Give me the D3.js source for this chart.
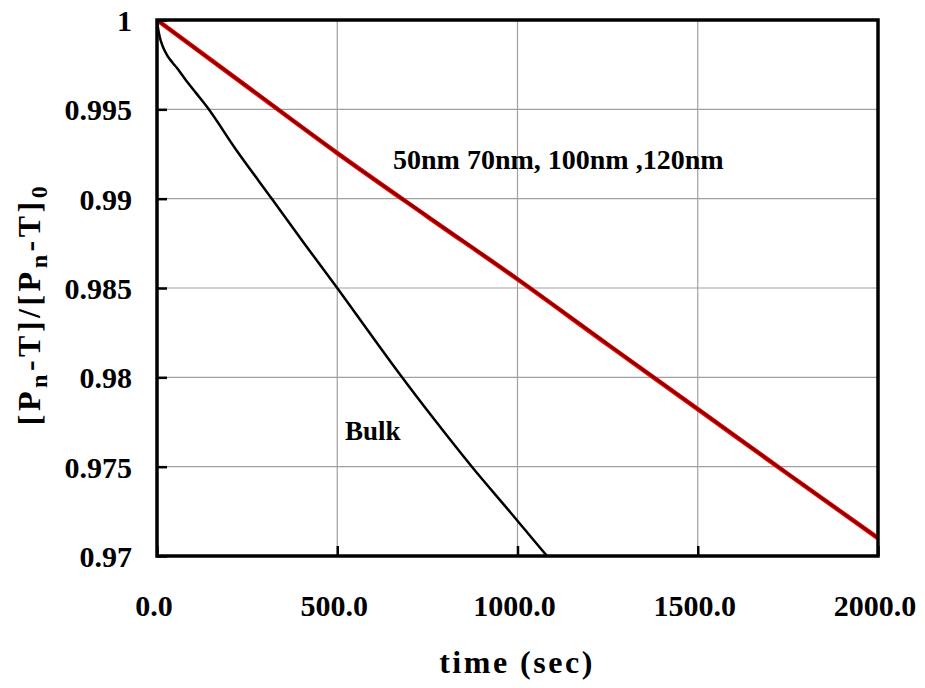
<!DOCTYPE html>
<html>
<head>
<meta charset="utf-8">
<script src="https://cdn.jsdelivr.net/npm/d3@7/dist/d3.min.js"></script>
<style>
  html, body { margin: 0; padding: 0; background: #fff; }
  svg { display: block; }
  text { font-family: "Liberation Serif", "Times New Roman", serif; font-weight: bold; fill: #000; }
</style>
</head>
<body>
<svg id="chart" width="925" height="688"></svg>
<script>
// Normalised concentration decay over time
const xTicks = [0, 500, 1000, 1500, 2000];
const xTickLabels = ["0.0", "500.0", "1000.0", "1500.0", "2000.0"];
const yTicks = [0.97, 0.975, 0.98, 0.985, 0.99, 0.995, 1];
const yTickLabels = ["0.97", "0.975", "0.98", "0.985", "0.99", "0.995", "1"];

// Bulk sample (time in s, normalised value)
const bulkTime  = [0, 2.8, 8.3, 16.6, 27.7, 41.6, 55.5, 77.7, 108, 139, 216, 319, 410, 502, 585, 671, 770, 874, 980, 1082, 1100];
const bulkValue = [1.0, 0.99955, 0.99899, 0.99849, 0.99804, 0.99765, 0.99731, 0.99670, 0.99592, 0.99513, 0.99284, 0.98998, 0.98745, 0.98494, 0.98262, 0.98024, 0.97762, 0.97498, 0.97245, 0.97000, 0.96958];

// Thin films: 50, 70, 100 and 120 nm overlap almost exactly
const filmTime = [0, 250, 500, 750, 1000, 1250, 1500, 1750, 2000];
const film50   = [1.0, 0.99630, 0.99258, 0.98903, 0.98552, 0.98187, 0.97825, 0.97462, 0.97103];
const film70   = [1.0, 0.99628, 0.99256, 0.98901, 0.98550, 0.98185, 0.97823, 0.97460, 0.97101];
const film100  = [1.0, 0.99627, 0.99255, 0.98900, 0.98549, 0.98184, 0.97822, 0.97459, 0.97100];
const film120  = [1.0, 0.99628, 0.99256, 0.98901, 0.98550, 0.98185, 0.97823, 0.97460, 0.97101];

const filmSeries = [
  { name: "50nm",  values: film50,  color: "#2030e0", width: 2.5 },
  { name: "70nm",  values: film70,  color: "#20a020", width: 2.5 },
  { name: "100nm", values: film100, color: "#ff0000", width: 4.5 },
  { name: "120nm", values: film120, color: "#800000", width: 2.5 }
];

const svg = d3.select("#chart");
const plot = { left: 157, top: 20, right: 878, bottom: 556 };

const x = d3.scaleLinear().domain([0, 2000]).range([plot.left, plot.right]);
const y = d3.scaleLinear().domain([0.97, 1]).range([plot.bottom, plot.top]);

svg.append("defs").append("clipPath").attr("id", "plotClip")
  .append("rect")
  .attr("x", plot.left).attr("y", plot.top)
  .attr("width", plot.right - plot.left).attr("height", plot.bottom - plot.top);

// Grid lines
const grid = svg.append("g");
grid.selectAll(".gx").data(xTicks.slice(1, -1)).join("line")
  .attr("x1", d => x(d)).attr("x2", d => x(d))
  .attr("y1", plot.top).attr("y2", plot.bottom)
  .attr("stroke", "#a0a0a0").attr("stroke-width", 1.2);
grid.selectAll(".gy").data(yTicks.slice(1, -1)).join("line")
  .attr("x1", plot.left).attr("x2", plot.right)
  .attr("y1", d => y(d)).attr("y2", d => y(d))
  .attr("stroke", "#a0a0a0").attr("stroke-width", 1.2);

// Data lines
const lines = svg.append("g").attr("clip-path", "url(#plotClip)");
const line = d3.line().x(d => x(d[0])).y(d => y(d[1])).curve(d3.curveMonotoneX);

filmSeries.forEach(s => {
  lines.append("path")
    .datum(filmTime.map((t, i) => [t, s.values[i]]))
    .attr("d", line)
    .attr("fill", "none")
    .attr("stroke", s.color)
    .attr("stroke-width", s.width)
    .attr("stroke-linejoin", "round");
});

lines.append("path")
  .datum(bulkTime.map((t, i) => [t, bulkValue[i]]))
  .attr("d", line)
  .attr("fill", "none")
  .attr("stroke", "#000")
  .attr("stroke-width", 2.5)
  .attr("stroke-linejoin", "round");

// Axes with inward ticks
const xAxis = d3.axisBottom(x).tickValues(xTicks).tickSize(-10).tickFormat("");
const yAxis = d3.axisLeft(y).tickValues(yTicks).tickSize(-10).tickFormat("");

const gx = svg.append("g").attr("transform", `translate(0,${plot.bottom})`).call(xAxis);
const gy = svg.append("g").attr("transform", `translate(${plot.left},0)`).call(yAxis);
[gx, gy].forEach(g => {
  g.select(".domain").remove();
  g.selectAll(".tick line").attr("stroke", "#000").attr("stroke-width", 2.5);
});

// Plot frame
svg.append("rect")
  .attr("x", plot.left).attr("y", plot.top)
  .attr("width", plot.right - plot.left).attr("height", plot.bottom - plot.top)
  .attr("fill", "none").attr("stroke", "#000").attr("stroke-width", 3.5);

// Tick labels
svg.append("g").selectAll("text").data(xTicks).join("text")
  .attr("x", d => x(d) - 3).attr("y", 616)
  .attr("text-anchor", "middle")
  .attr("font-size", 30)
  .text((d, i) => xTickLabels[i]);

svg.append("g").selectAll("text").data(yTicks).join("text")
  .attr("x", 132).attr("y", d => y(d) + 11)
  .attr("text-anchor", "end")
  .attr("font-size", 30)
  .text((d, i) => yTickLabels[i]);

// Axis titles
svg.append("text")
  .attr("x", 517).attr("y", 673)
  .attr("text-anchor", "middle")
  .attr("font-size", 32)
  .attr("letter-spacing", 2.5)
  .text("time (sec)");

const parts = [["[P", false], ["n", true], ["-T]/[P", false], ["n", true], ["-T]", false], ["0", true]];
const yTitle = svg.append("text")
  .attr("transform", "translate(40,304) rotate(-90)")
  .attr("text-anchor", "middle")
  .attr("font-size", 32)
  .attr("letter-spacing", 3.5);
parts.forEach(([t, sub], i) => {
  const prevSub = i > 0 && parts[i - 1][1];
  const ts = yTitle.append("tspan").text(t);
  if (sub) ts.attr("font-size", 24).attr("dy", 7);
  else if (prevSub) ts.attr("dy", -7);
});

// Series annotations
svg.append("text")
  .attr("x", 393).attr("y", 169)
  .attr("font-size", 28)
  .text("50nm 70nm, 100nm ,120nm");

svg.append("text")
  .attr("x", 345).attr("y", 440)
  .attr("font-size", 27)
  .text("Bulk");
</script>
</body>
</html>
